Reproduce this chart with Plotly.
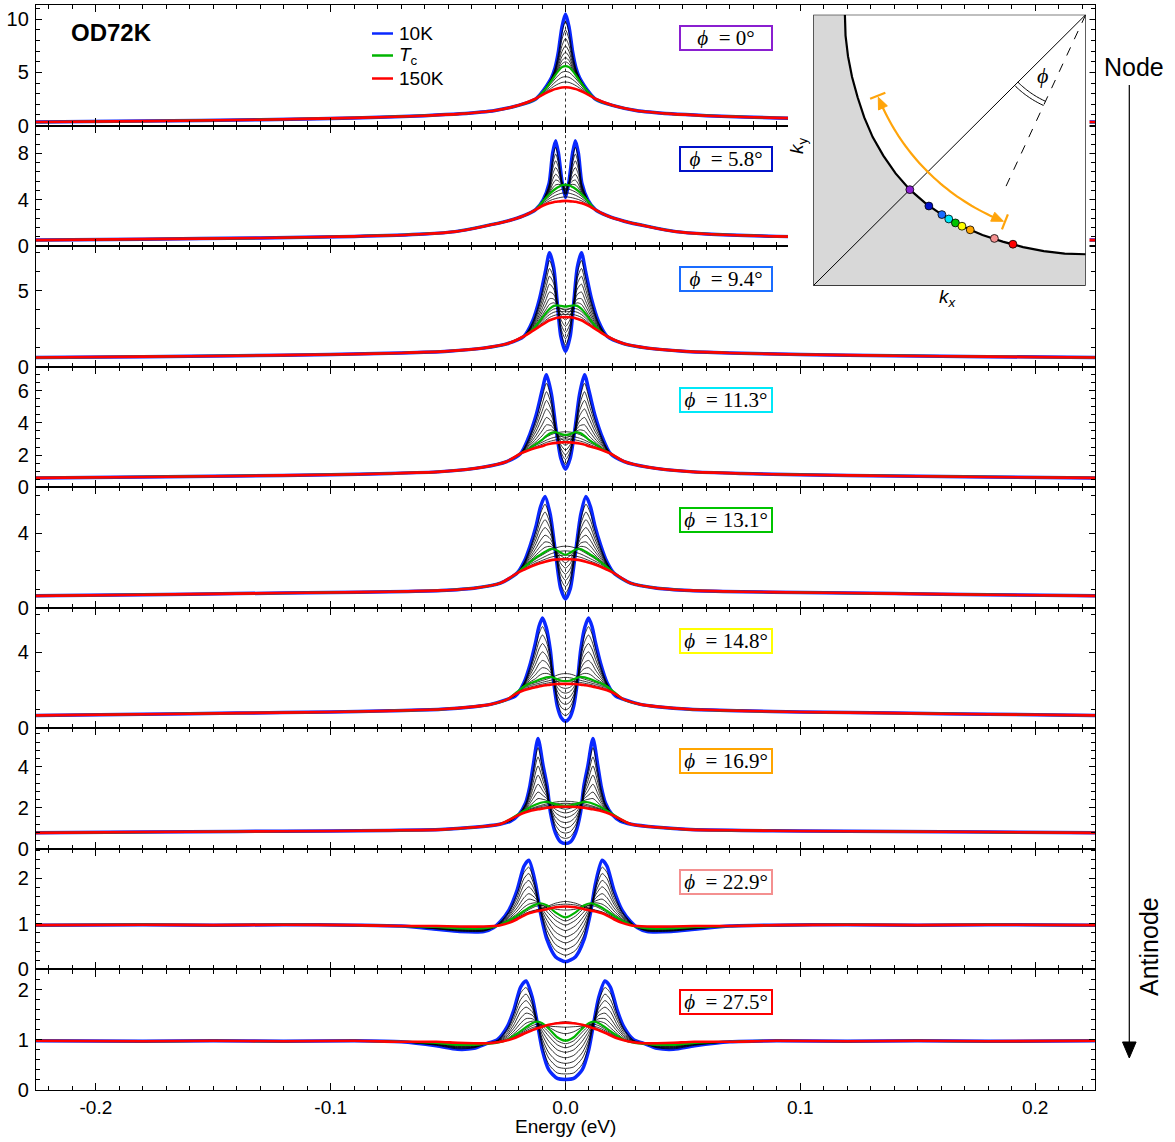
import math
import plotly.graph_objects as go

# ---------------- data ----------------
PHI = [0, 5.8, 9.4, 11.3, 13.1, 14.8, 16.9, 22.9, 27.5]
PHI_COLORS = ["#8a1fd0", "#0010c8", "#1a6cff", "#00e8f8", "#00c400",
              "#ffff00", "#ffa500", "#f49090", "#ff0000"]
Y_TOP = [11.35, 10.4, 7.93, 7.5, 6.46, 6.34, 5.87, 2.64, 2.4]
Y_TICKS = [[0, 5, 10], [0, 4, 8], [0, 5], [0, 2, 4, 6], [0, 4], [0, 4], [0, 2, 4], [0, 1, 2], [0, 1, 2]]
Y_MINOR = [1, 0.8, 1.25, 0.5, 1, 1, 0.4, 0.2, 0.2]
X_TICKS = [-0.2, -0.1, 0.0, 0.1, 0.2]
X_TICKTEXT = ["-0.2", "-0.1", "0.0", "0.1", "0.2"]

# Symmetrized spectra: energies >= 0 (inner part, then outer tail shared by all curves)
# ---- phi = 0
P1_E_IN = [0, 0.0015, 0.003, 0.0045, 0.006, 0.008, 0.0105, 0.013]
P1_BLUE = [10.5, 9.3, 7.0, 5.4, 4.5, 3.75, 3.0, 2.45]
P1_GREEN = [5.6, 5.5, 5.15, 4.7, 4.2, 3.6, 2.95, 2.45]
P1_RED = [3.6, 3.58, 3.52, 3.43, 3.3, 3.1, 2.8, 2.5]
P1_BLACK = [
    [9.8, 8.76, 6.74, 5.3, 4.46, 3.73, 2.99, 2.45],
    [9.0, 8.14, 6.43, 5.19, 4.41, 3.7, 2.98, 2.45],
    [8.2, 7.52, 6.13, 5.07, 4.36, 3.68, 2.98, 2.45],
    [7.5, 6.97, 5.87, 4.97, 4.32, 3.66, 2.97, 2.45],
    [6.9, 6.51, 5.64, 4.89, 4.28, 3.64, 2.96, 2.45],
    [6.4, 6.12, 5.45, 4.81, 4.25, 3.63, 2.96, 2.45],
    [6.0, 5.81, 5.3, 4.76, 4.22, 3.61, 2.95, 2.45],
    [5.1, 5.02, 4.74, 4.38, 3.98, 3.48, 2.91, 2.45],
    [4.6, 4.54, 4.34, 4.07, 3.75, 3.35, 2.88, 2.45],
    [4.1, 4.06, 3.93, 3.75, 3.53, 3.23, 2.84, 2.45],
]
P1_E_OUT = [0.02, 0.03, 0.045, 0.06, 0.09, 0.13, 0.18, 0.2255]
P1_TAIL = [1.9, 1.42, 1.1, 0.93, 0.72, 0.55, 0.42, 0.33]

# ---- phi = 5.8
P2_E_IN = [0, 0.0015, 0.003, 0.0042, 0.0055, 0.007, 0.0095, 0.0127]
P2_BLUE = [4.2, 5.6, 8.0, 9.1, 8.0, 5.4, 4.0, 3.15]
P2_GREEN = [5.3, 5.25, 5.1, 4.95, 4.75, 4.45, 3.9, 3.15]
P2_RED = [3.9, 3.88, 3.85, 3.82, 3.77, 3.7, 3.5, 3.15]
P2_BLACK = [
    [4.35, 5.55, 7.59, 8.52, 7.55, 5.27, 3.99, 3.15],
    [4.51, 5.5, 7.19, 7.94, 7.09, 5.13, 3.97, 3.15],
    [4.66, 5.45, 6.78, 7.36, 6.64, 5.0, 3.96, 3.15],
    [4.82, 5.4, 6.38, 6.78, 6.18, 4.87, 3.94, 3.15],
    [4.97, 5.36, 5.97, 6.2, 5.73, 4.74, 3.93, 3.15],
    [5.1, 5.31, 5.62, 5.7, 5.33, 4.62, 3.92, 3.15],
    [5.21, 5.28, 5.33, 5.28, 5.01, 4.52, 3.91, 3.15],
    [4.95, 4.91, 4.79, 4.67, 4.51, 4.26, 3.8, 3.15],
    [4.6, 4.57, 4.48, 4.39, 4.26, 4.08, 3.7, 3.15],
    [4.25, 4.22, 4.16, 4.1, 4.02, 3.89, 3.6, 3.15],
]
P2_E_OUT = [0.018, 0.025, 0.035, 0.047, 0.06, 0.09, 0.13, 0.18, 0.2255]
P2_TAIL = [2.6, 2.15, 1.7, 1.25, 1.05, 0.84, 0.7, 0.6, 0.52]

# ---- phi = 9.4
P3_E_IN = [0, 0.002, 0.0035, 0.005, 0.0068, 0.0085, 0.011, 0.014, 0.0177]
P3_BLUE = [1.0, 2.0, 4.2, 6.5, 7.5, 6.3, 4.5, 3.0, 2.0]
P3_GREEN = [3.95, 4.0, 4.03, 4.0, 3.8, 3.5, 3.0, 2.45, 2.0]
P3_RED = [3.26, 3.25, 3.22, 3.15, 3.05, 2.9, 2.65, 2.35, 2.0]
P3_BLACK = [
    [1.41, 2.28, 4.18, 6.15, 6.98, 5.91, 4.29, 2.92, 2.0],
    [1.83, 2.56, 4.15, 5.8, 6.46, 5.52, 4.08, 2.85, 2.0],
    [2.24, 2.84, 4.13, 5.45, 5.95, 5.12, 3.87, 2.77, 2.0],
    [2.65, 3.12, 4.1, 5.1, 5.43, 4.73, 3.66, 2.69, 2.0],
    [3.07, 3.4, 4.08, 4.75, 4.91, 4.34, 3.45, 2.62, 2.0],
    [3.42, 3.64, 4.06, 4.45, 4.47, 4.0, 3.27, 2.55, 2.0],
    [3.71, 3.84, 4.04, 4.2, 4.1, 3.72, 3.12, 2.49, 2.0],
    [3.78, 3.81, 3.83, 3.79, 3.61, 3.35, 2.91, 2.43, 2.0],
    [3.61, 3.63, 3.63, 3.58, 3.43, 3.2, 2.83, 2.4, 2.0],
    [3.43, 3.44, 3.42, 3.36, 3.24, 3.05, 2.74, 2.38, 2.0],
]
P3_E_OUT = [0.025, 0.035, 0.05, 0.07, 0.1, 0.14, 0.18, 0.2255]
P3_TAIL = [1.5, 1.22, 1.02, 0.9, 0.8, 0.72, 0.66, 0.6]

# ---- phi = 11.3
P4_E_IN = [0, 0.002, 0.004, 0.006, 0.0081, 0.010, 0.0125, 0.016, 0.0191]
P4_BLUE = [1.12, 1.8, 3.6, 5.8, 7.0, 6.0, 4.5, 3.0, 2.1]
P4_GREEN = [3.25, 3.3, 3.42, 3.38, 3.2, 2.95, 2.7, 2.35, 2.1]
P4_RED = [2.8, 2.79, 2.76, 2.72, 2.65, 2.55, 2.45, 2.28, 2.1]
P4_BLACK = [
    [1.42, 2.01, 3.57, 5.46, 6.47, 5.57, 4.25, 2.91, 2.1],
    [1.72, 2.22, 3.55, 5.12, 5.94, 5.15, 4.0, 2.82, 2.1],
    [2.01, 2.43, 3.52, 4.78, 5.4, 4.72, 3.74, 2.73, 2.1],
    [2.31, 2.64, 3.5, 4.45, 4.87, 4.29, 3.49, 2.64, 2.1],
    [2.61, 2.85, 3.47, 4.11, 4.34, 3.87, 3.24, 2.55, 2.1],
    [2.87, 3.03, 3.45, 3.82, 3.88, 3.5, 3.02, 2.47, 2.1],
    [3.08, 3.18, 3.44, 3.57, 3.5, 3.19, 2.84, 2.4, 2.1],
    [3.45, 3.43, 3.38, 3.28, 3.12, 2.95, 2.72, 2.38, 2.1],
    [3.2, 3.18, 3.13, 3.05, 2.93, 2.79, 2.62, 2.33, 2.1],
    [3.0, 2.99, 2.95, 2.88, 2.79, 2.67, 2.53, 2.3, 2.1],
]
P4_E_OUT = [0.025, 0.035, 0.053, 0.075, 0.1, 0.14, 0.18, 0.2255]
P4_TAIL = [1.6, 1.25, 0.97, 0.85, 0.78, 0.7, 0.64, 0.58]

# ---- phi = 13.1
P5_E_IN = [0, 0.002, 0.0043, 0.0065, 0.0087, 0.0106, 0.0125, 0.015, 0.0175, 0.0206]
P5_BLUE = [0.47, 1.0, 3.0, 5.0, 5.96, 5.43, 4.4, 3.35, 2.5, 1.86]
P5_GREEN = [2.84, 2.95, 3.12, 3.14, 3.0, 2.85, 2.7, 2.45, 2.2, 1.86]
P5_RED = [2.6, 2.6, 2.58, 2.54, 2.47, 2.4, 2.32, 2.2, 2.05, 1.86]
P5_BLACK = [
    [0.8, 1.27, 3.02, 4.74, 5.55, 5.07, 4.16, 3.22, 2.46, 1.86],
    [1.13, 1.55, 3.03, 4.48, 5.13, 4.71, 3.92, 3.1, 2.42, 1.86],
    [1.47, 1.82, 3.05, 4.22, 4.72, 4.35, 3.69, 2.97, 2.37, 1.86],
    [1.8, 2.09, 3.07, 3.96, 4.3, 3.99, 3.45, 2.85, 2.33, 1.86],
    [2.13, 2.37, 3.08, 3.7, 3.89, 3.62, 3.21, 2.72, 2.29, 1.86],
    [2.41, 2.6, 3.1, 3.47, 3.53, 3.31, 3.01, 2.61, 2.25, 1.86],
    [2.65, 2.79, 3.11, 3.29, 3.24, 3.06, 2.84, 2.52, 2.22, 1.86],
    [3.3, 3.28, 3.2, 3.08, 2.92, 2.78, 2.63, 2.42, 2.18, 1.86],
    [3.05, 3.03, 2.97, 2.88, 2.75, 2.63, 2.51, 2.34, 2.13, 1.86],
    [2.82, 2.81, 2.77, 2.7, 2.6, 2.5, 2.41, 2.26, 2.09, 1.86],
]
P5_E_OUT = [0.0277, 0.039, 0.053, 0.075, 0.1, 0.14, 0.18, 0.2255]
P5_TAIL = [1.32, 1.05, 0.93, 0.86, 0.82, 0.76, 0.7, 0.64]

# ---- phi = 14.8
P6_E_IN = [0, 0.0018, 0.0035, 0.005, 0.0065, 0.0082, 0.0098, 0.0113, 0.0128, 0.0149, 0.0177, 0.0213]
P6_BLUE = [0.38, 0.56, 1.17, 2.4, 4.14, 5.3, 5.8, 5.35, 4.49, 3.44, 2.4, 1.7]
P6_GREEN = [2.48, 2.5, 2.58, 2.66, 2.71, 2.68, 2.62, 2.55, 2.47, 2.38, 2.2, 1.85]
P6_RED = [2.34, 2.34, 2.33, 2.32, 2.3, 2.27, 2.24, 2.2, 2.16, 2.1, 2.0, 1.8]
P6_BLACK = [
    [0.67, 0.83, 1.37, 2.44, 3.94, 4.93, 5.35, 4.96, 4.2, 3.29, 2.37, 1.72],
    [0.97, 1.1, 1.56, 2.47, 3.74, 4.57, 4.91, 4.57, 3.92, 3.14, 2.34, 1.74],
    [1.26, 1.37, 1.76, 2.51, 3.54, 4.2, 4.46, 4.17, 3.63, 2.99, 2.32, 1.76],
    [1.56, 1.65, 1.96, 2.55, 3.34, 3.83, 4.02, 3.78, 3.35, 2.85, 2.29, 1.78],
    [1.85, 1.92, 2.16, 2.58, 3.14, 3.47, 3.57, 3.39, 3.06, 2.7, 2.26, 1.81],
    [2.1, 2.15, 2.33, 2.61, 2.97, 3.15, 3.19, 3.05, 2.82, 2.57, 2.24, 1.82],
    [2.31, 2.34, 2.47, 2.64, 2.83, 2.89, 2.87, 2.77, 2.61, 2.46, 2.22, 1.84],
    [2.88, 2.86, 2.8, 2.72, 2.65, 2.58, 2.52, 2.46, 2.4, 2.32, 2.17, 1.83],
    [2.68, 2.66, 2.62, 2.57, 2.52, 2.47, 2.42, 2.37, 2.32, 2.25, 2.12, 1.82],
    [2.5, 2.49, 2.47, 2.44, 2.41, 2.37, 2.33, 2.29, 2.24, 2.18, 2.06, 1.81],
]
P6_E_OUT = [0.0248, 0.0319, 0.039, 0.053, 0.075, 0.1, 0.14, 0.18, 0.2255]
P6_TAIL = [1.52, 1.26, 1.14, 1.0, 0.92, 0.86, 0.8, 0.74, 0.68]

# ---- phi = 16.9
P7_E_IN = [0, 0.0021, 0.0043, 0.0064, 0.0078, 0.0095, 0.0117, 0.0138, 0.0152, 0.017, 0.0199, 0.0234]
P7_BLUE = [0.26, 0.34, 0.78, 1.76, 3.05, 4.03, 5.37, 4.03, 3.05, 2.24, 1.67, 1.35]
P7_GREEN = [2.08, 2.12, 2.18, 2.25, 2.29, 2.27, 2.2, 2.1, 2.02, 1.9, 1.7, 1.45]
P7_RED = [2.05, 2.05, 2.04, 2.02, 2.0, 1.97, 1.93, 1.88, 1.84, 1.78, 1.65, 1.45]
P7_BLACK = [
    [0.51, 0.59, 0.98, 1.83, 2.94, 3.78, 4.93, 3.76, 2.91, 2.19, 1.67, 1.36],
    [0.77, 0.84, 1.17, 1.9, 2.84, 3.54, 4.48, 3.49, 2.76, 2.14, 1.68, 1.38],
    [1.02, 1.09, 1.37, 1.97, 2.73, 3.29, 4.04, 3.22, 2.62, 2.1, 1.68, 1.39],
    [1.28, 1.34, 1.56, 2.03, 2.62, 3.04, 3.59, 2.95, 2.47, 2.05, 1.69, 1.41],
    [1.53, 1.59, 1.76, 2.1, 2.52, 2.8, 3.15, 2.68, 2.33, 2.0, 1.69, 1.42],
    [1.75, 1.8, 1.93, 2.16, 2.43, 2.59, 2.77, 2.45, 2.21, 1.96, 1.69, 1.43],
    [1.93, 1.98, 2.07, 2.21, 2.35, 2.41, 2.45, 2.25, 2.1, 1.93, 1.7, 1.44],
    [2.32, 2.31, 2.28, 2.24, 2.2, 2.15, 2.08, 2.0, 1.95, 1.86, 1.69, 1.45],
    [2.22, 2.21, 2.19, 2.16, 2.13, 2.09, 2.03, 1.96, 1.91, 1.83, 1.67, 1.45],
    [2.13, 2.12, 2.11, 2.09, 2.06, 2.03, 1.98, 1.92, 1.87, 1.8, 1.66, 1.45],
]
P7_E_OUT = [0.028, 0.039, 0.053, 0.075, 0.1, 0.14, 0.18, 0.2255]
P7_TAIL = [1.2, 1.05, 0.94, 0.9, 0.87, 0.85, 0.82, 0.78]

# ---- phi = 22.9
P8_E_IN = [0, 0.0043, 0.0078, 0.0106, 0.0128, 0.0156, 0.0177, 0.0206, 0.0241, 0.0277, 0.0305, 0.0348, 0.045, 0.055]
P8_BLUE = [0.17, 0.28, 0.64, 1.23, 1.89, 2.39, 2.26, 1.74, 1.3, 1.05, 0.92, 0.83, 0.83, 0.88]
P8_GREEN = [1.14, 1.25, 1.4, 1.45, 1.42, 1.35, 1.28, 1.18, 1.07, 0.98, 0.93, 0.9, 0.9, 0.93]
P8_RED = [1.38, 1.36, 1.32, 1.29, 1.27, 1.23, 1.18, 1.1, 1.02, 0.97, 0.95, 0.94, 0.94, 0.95]
P8_BLACK = [
    [0.31, 0.42, 0.75, 1.26, 1.82, 2.24, 2.12, 1.66, 1.27, 1.04, 0.92, 0.84, 0.84, 0.89],
    [0.44, 0.55, 0.85, 1.29, 1.76, 2.1, 1.99, 1.58, 1.24, 1.03, 0.92, 0.85, 0.85, 0.89],
    [0.58, 0.69, 0.96, 1.32, 1.69, 1.95, 1.85, 1.5, 1.2, 1.02, 0.92, 0.86, 0.86, 0.9],
    [0.71, 0.82, 1.07, 1.35, 1.63, 1.81, 1.71, 1.43, 1.17, 1.01, 0.93, 0.87, 0.87, 0.91],
    [0.85, 0.96, 1.17, 1.38, 1.56, 1.66, 1.57, 1.35, 1.14, 1.0, 0.93, 0.88, 0.88, 0.92],
    [0.97, 1.08, 1.26, 1.41, 1.5, 1.54, 1.46, 1.28, 1.11, 0.99, 0.93, 0.89, 0.89, 0.92],
    [1.06, 1.17, 1.34, 1.43, 1.46, 1.43, 1.36, 1.22, 1.09, 0.99, 0.93, 0.89, 0.89, 0.93],
    [1.49, 1.45, 1.38, 1.33, 1.3, 1.26, 1.21, 1.13, 1.04, 0.98, 0.94, 0.92, 0.92, 0.94],
    [1.43, 1.41, 1.36, 1.32, 1.29, 1.25, 1.2, 1.12, 1.03, 0.97, 0.94, 0.92, 0.92, 0.94],
    [1.3, 1.32, 1.38, 1.4, 1.38, 1.31, 1.24, 1.15, 1.05, 0.97, 0.93, 0.91, 0.91, 0.94],
]
P8_E_OUT = [0.07, 0.09, 0.12, 0.15, 0.18, 0.2255]
P8_TAIL = [0.95, 0.97, 0.98, 0.97, 0.98, 0.97]

# ---- phi = 27.5
P9_E_IN = [0, 0.0035, 0.0071, 0.0099, 0.012, 0.0142, 0.0168, 0.0191, 0.022, 0.0248, 0.029, 0.0333, 0.039, 0.046, 0.055]
P9_BLUE = [0.21, 0.23, 0.4, 0.8, 1.33, 1.85, 2.17, 2.05, 1.59, 1.26, 1.0, 0.93, 0.83, 0.81, 0.88]
P9_GREEN = [0.98, 1.05, 1.22, 1.33, 1.36, 1.33, 1.25, 1.17, 1.08, 1.0, 0.94, 0.92, 0.9, 0.9, 0.94]
P9_RED = [1.34, 1.33, 1.3, 1.26, 1.23, 1.19, 1.14, 1.09, 1.03, 0.99, 0.95, 0.93, 0.93, 0.94, 0.96]
P9_BLACK = [
    [0.32, 0.34, 0.51, 0.87, 1.33, 1.78, 2.04, 1.93, 1.52, 1.22, 0.99, 0.93, 0.84, 0.82, 0.89],
    [0.43, 0.46, 0.63, 0.95, 1.34, 1.7, 1.91, 1.8, 1.45, 1.19, 0.98, 0.93, 0.85, 0.84, 0.9],
    [0.53, 0.57, 0.74, 1.02, 1.34, 1.63, 1.78, 1.68, 1.38, 1.15, 0.97, 0.93, 0.86, 0.85, 0.91],
    [0.64, 0.69, 0.86, 1.1, 1.35, 1.56, 1.65, 1.56, 1.3, 1.11, 0.97, 0.92, 0.87, 0.86, 0.91],
    [0.75, 0.8, 0.97, 1.17, 1.35, 1.49, 1.53, 1.43, 1.23, 1.08, 0.96, 0.92, 0.88, 0.87, 0.92],
    [0.84, 0.9, 1.07, 1.23, 1.35, 1.42, 1.42, 1.33, 1.17, 1.05, 0.95, 0.92, 0.89, 0.88, 0.93],
    [0.92, 0.98, 1.15, 1.28, 1.36, 1.37, 1.33, 1.24, 1.12, 1.02, 0.95, 0.92, 0.89, 0.89, 0.93],
    [1.36, 1.34, 1.3, 1.27, 1.25, 1.21, 1.15, 1.1, 1.04, 0.99, 0.95, 0.93, 0.92, 0.93, 0.95],
    [1.25, 1.26, 1.27, 1.28, 1.27, 1.24, 1.18, 1.12, 1.05, 0.99, 0.95, 0.93, 0.91, 0.92, 0.95],
    [1.12, 1.16, 1.25, 1.3, 1.31, 1.28, 1.21, 1.14, 1.06, 1.0, 0.95, 0.92, 0.91, 0.91, 0.94],
]
P9_E_OUT = [0.07, 0.09, 0.12, 0.15, 0.18, 0.2255]
P9_TAIL = [0.96, 0.98, 0.97, 0.98, 0.97, 0.98]

# Inset (schematic Fermi surface around (pi,pi)): radius vs angle, and k_F radius of each cut
FS_ANGLE = [180, 185, 190, 195, 200, 205, 210, 215, 220, 225, 230, 235, 240, 245, 250, 255, 260, 265, 270]
FS_RADIUS = [0.884, 0.885, 0.886, 0.888, 0.891, 0.897, 0.903, 0.907, 0.911, 0.913,
             0.911, 0.907, 0.903, 0.897, 0.891, 0.888, 0.886, 0.885, 0.884]
KF_RADIUS = [0.913, 0.911, 0.907, 0.906, 0.905, 0.903, 0.900, 0.891, 0.888]

PANELS = [
    (P1_E_IN, P1_BLUE, P1_GREEN, P1_RED, P1_BLACK, P1_E_OUT, P1_TAIL),
    (P2_E_IN, P2_BLUE, P2_GREEN, P2_RED, P2_BLACK, P2_E_OUT, P2_TAIL),
    (P3_E_IN, P3_BLUE, P3_GREEN, P3_RED, P3_BLACK, P3_E_OUT, P3_TAIL),
    (P4_E_IN, P4_BLUE, P4_GREEN, P4_RED, P4_BLACK, P4_E_OUT, P4_TAIL),
    (P5_E_IN, P5_BLUE, P5_GREEN, P5_RED, P5_BLACK, P5_E_OUT, P5_TAIL),
    (P6_E_IN, P6_BLUE, P6_GREEN, P6_RED, P6_BLACK, P6_E_OUT, P6_TAIL),
    (P7_E_IN, P7_BLUE, P7_GREEN, P7_RED, P7_BLACK, P7_E_OUT, P7_TAIL),
    (P8_E_IN, P8_BLUE, P8_GREEN, P8_RED, P8_BLACK, P8_E_OUT, P8_TAIL),
    (P9_E_IN, P9_BLUE, P9_GREEN, P9_RED, P9_BLACK, P9_E_OUT, P9_TAIL),
]

# ---------------- layout geometry ----------------
W, H = 1175, 1142
ML, MR, MT, MB = 36, 80, 5, 52
PW, PH = W - ML - MR, H - MT - MB
NP = 9
PANEL_H = PH / NP


def fx(px):
    return (px - ML) / PW


def fy(py):
    return (H - MB - py) / PH


def ax_names(i):
    s = "" if i == 0 else str(i + 1)
    return "x" + s, "y" + s, "xaxis" + s, "yaxis" + s


def mirror_xy(e, v):
    x = [-a for a in reversed(e)] + list(e[1:])
    y = list(reversed(v)) + list(v[1:])
    return x, y


fig = go.Figure()
BLUE_C, GREEN_C, RED_C = "#0a28ff", "#00b400", "#ff0000"

for i, (e_in, blue, green, red, blacks, e_out, tail) in enumerate(PANELS):
    xn, yn, _, _ = ax_names(i)
    e_all = list(e_in) + list(e_out)

    def add(vals, color, width):
        assert len(vals) == len(e_in), (i, len(vals), len(e_in))
        x, y = mirror_xy(e_all, list(vals) + list(tail))
        fig.add_trace(go.Scatter(x=x, y=y, mode="lines", xaxis=xn, yaxis=yn,
                                 line=dict(color=color, width=width, shape="spline", smoothing=0.7),
                                 hoverinfo="skip", showlegend=False))

    add(blue, BLUE_C, 3.5)
    for b in blacks:
        add(b, "black", 0.8)
    add(green, GREEN_C, 2.2)
    add(red, RED_C, 2.6)

layout = dict(
    width=W, height=H,
    margin=dict(l=ML, r=MR, t=MT, b=MB, pad=0),
    paper_bgcolor="white", plot_bgcolor="white",
    font=dict(family="Liberation Sans, Arial, sans-serif", size=19, color="black"),
    showlegend=False,
)

for i in range(NP):
    xn, yn, xk, yk = ax_names(i)
    xa = dict(domain=[0, 1], range=[-0.2255, 0.2255], anchor=yn, showline=True,
              linecolor="black", linewidth=1.3, mirror="allticks", ticks="inside",
              ticklen=7, tickwidth=1, tickcolor="black", tickmode="array",
              tickvals=X_TICKS, ticktext=X_TICKTEXT, showticklabels=(i == NP - 1),
              ticklabelstandoff=0, tickfont=dict(size=19),
              minor=dict(dtick=0.01, tick0=0, ticks="inside", ticklen=4, tickwidth=1,
                         tickcolor="black", showgrid=False),
              showgrid=False, zeroline=False, fixedrange=True)
    if i > 0:
        xa["matches"] = "x"
    ya = dict(domain=[(NP - 1 - i) / NP, (NP - i) / NP], range=[0, Y_TOP[i]], anchor=xn,
              showline=True, linecolor="black", linewidth=1.3, mirror="allticks",
              ticks="inside", ticklen=6, tickwidth=1, tickcolor="black", tickmode="array",
              tickvals=Y_TICKS[i], ticklabelstandoff=2, tickfont=dict(size=20),
              minor=dict(dtick=Y_MINOR[i], tick0=0, ticks="inside", ticklen=3.5, tickwidth=1,
                         tickcolor="black", showgrid=False),
              showgrid=False, zeroline=False, fixedrange=True)
    layout[xk] = xa
    layout[yk] = ya

# inset axes
IX0, IY0, IX1, IY1 = 813.3, 14.7, 1085.7, 285.7
layout["xaxis10"] = dict(domain=[fx(IX0), fx(IX1)], range=[0, 1], anchor="y10", visible=False, fixedrange=True)
layout["yaxis10"] = dict(domain=[fy(IY1), fy(IY0)], range=[0, 1], anchor="x10", visible=False, fixedrange=True)
fig.add_trace(go.Scatter(x=[0.5], y=[0.5], xaxis="x10", yaxis="y10", mode="markers",
                         marker=dict(opacity=0), hoverinfo="skip", showlegend=False))

shapes = []
annotations = []

# dotted zero lines
for i in range(NP):
    xn, yn, _, _ = ax_names(i)
    shapes.append(dict(type="line", xref=xn, yref=yn + " domain", x0=0, x1=0, y0=0, y1=1,
                       line=dict(color="#333333", width=1, dash="dot"), layer="below"))

# legend
LEG = [("10K", BLUE_C, 33.5), ("<i>T</i><sub>c</sub>", GREEN_C, 55.5), ("150K", RED_C, 78.5)]
for txt, col, py in LEG:
    shapes.append(dict(type="line", xref="paper", yref="paper", x0=fx(372), x1=fx(393),
                       y0=fy(py), y1=fy(py), line=dict(color=col, width=2.5), layer="above"))
    annotations.append(dict(text=txt, xref="paper", yref="paper", x=fx(397), y=fy(py),
                            xanchor="left", yanchor="middle", showarrow=False,
                            font=dict(size=19, family="Liberation Sans, Arial, sans-serif")))

annotations.append(dict(text="<b>OD72K</b>", xref="paper", yref="paper", x=fx(69), y=fy(33),
                        xanchor="left", yanchor="middle", showarrow=False,
                        font=dict(size=24, family="Liberation Sans, Arial, sans-serif")))

# phi labels
for i in range(NP):
    ptop = MT + i * PANEL_H
    annotations.append(dict(text="<i>ϕ</i>  = %s°" % (("%g" % PHI[i]) if PHI[i] != int(PHI[i]) else "%d" % PHI[i]),
                            xref="paper", yref="paper", x=fx(726.3), y=fy(ptop + 33),
                            xanchor="center", yanchor="middle", showarrow=False,
                            width=88, height=20, borderpad=1, borderwidth=2,
                            bordercolor=PHI_COLORS[i], bgcolor="rgba(255,255,255,0)",
                            font=dict(size=21, family="Liberation Serif, Times New Roman, serif")))

# ---------- inset ----------
shapes.append(dict(type="rect", xref="paper", yref="paper", x0=fx(788), x1=fx(1089.5),
                   y0=fy(292), y1=fy(11), fillcolor="white", line=dict(width=0), layer="above"))

fs_pts = [(1 + r * math.cos(math.radians(a)), 1 + r * math.sin(math.radians(a)))
          for a, r in zip(FS_ANGLE, FS_RADIUS)]
gray_path = "M 0,0 L 0,1 " + " ".join("L %.4f,%.4f" % p for p in fs_pts) + " L 1,0 Z"
shapes.append(dict(type="path", xref="x10", yref="y10", path=gray_path,
                   fillcolor="#d8d8d8", line=dict(width=0), layer="above"))
shapes.append(dict(type="line", xref="x10", yref="y10", x0=0, y0=0, x1=1, y1=1,
                   line=dict(color="black", width=1), layer="above"))
fs_path = "M %.4f,%.4f " % fs_pts[0] + " ".join("L %.4f,%.4f" % p for p in fs_pts[1:])
shapes.append(dict(type="path", xref="x10", yref="y10", path=fs_path,
                   line=dict(color="black", width=2.2), layer="above"))
shapes.append(dict(type="rect", xref="x10", yref="y10", x0=0, y0=0, x1=1, y1=1,
                   line=dict(color="black", width=1.2), layer="above"))

# dashed line at angle phi from the corner
DASH_ANG, DASH_LEN = 245.2, 0.706
shapes.append(dict(type="line", xref="x10", yref="y10", x0=1, y0=1,
                   x1=1 + DASH_LEN * math.cos(math.radians(DASH_ANG)),
                   y1=1 + DASH_LEN * math.sin(math.radians(DASH_ANG)),
                   line=dict(color="black", width=1, dash="dash"), layer="above"))
for rr in (0.352, 0.369):
    pts = [(1 + rr * math.cos(math.radians(225 + k * (DASH_ANG - 225) / 20)),
            1 + rr * math.sin(math.radians(225 + k * (DASH_ANG - 225) / 20))) for k in range(21)]
    shapes.append(dict(type="path", xref="x10", yref="y10",
                       path="M %.4f,%.4f " % pts[0] + " ".join("L %.4f,%.4f" % p for p in pts[1:]),
                       line=dict(color="black", width=1), layer="above"))
annotations.append(dict(text="<i>ϕ</i>", xref="x10", yref="y10", x=0.842, y=0.775,
                        showarrow=False, xanchor="center", yanchor="middle",
                        font=dict(size=22, family="Liberation Serif, Times New Roman, serif")))

# orange double arrow along an arc
ORANGE = "#ffa40a"
AR, A0, A1 = 0.82, 201.8, 248.4
HEAD = 3.0  # degrees
arc = [(1 + AR * math.cos(math.radians(A0 + HEAD * 0.5 + k * (A1 - A0 - HEAD) / 40)),
        1 + AR * math.sin(math.radians(A0 + HEAD * 0.5 + k * (A1 - A0 - HEAD) / 40))) for k in range(41)]
shapes.append(dict(type="path", xref="x10", yref="y10",
                   path="M %.4f,%.4f " % arc[0] + " ".join("L %.4f,%.4f" % p for p in arc[1:]),
                   line=dict(color=ORANGE, width=2.2), layer="above"))
for tip, base in ((A0, A0 + HEAD), (A1, A1 - HEAD)):
    t = (1 + AR * math.cos(math.radians(tip)), 1 + AR * math.sin(math.radians(tip)))
    b1 = (1 + (AR - 0.018) * math.cos(math.radians(base)), 1 + (AR - 0.018) * math.sin(math.radians(base)))
    b2 = (1 + (AR + 0.018) * math.cos(math.radians(base)), 1 + (AR + 0.018) * math.sin(math.radians(base)))
    shapes.append(dict(type="path", xref="x10", yref="y10",
                       path="M %.4f,%.4f L %.4f,%.4f L %.4f,%.4f Z" % (t + b1 + b2),
                       fillcolor=ORANGE, line=dict(color=ORANGE, width=1), layer="above"))
for ang in (A0 - 0.4, A1 + 0.4):
    c, s = math.cos(math.radians(ang)), math.sin(math.radians(ang))
    shapes.append(dict(type="line", xref="x10", yref="y10",
                       x0=1 + (AR - 0.03) * c, y0=1 + (AR - 0.03) * s,
                       x1=1 + (AR + 0.03) * c, y1=1 + (AR + 0.03) * s,
                       line=dict(color=ORANGE, width=2.2), layer="above"))

# k_F points of the cuts
DOT_R = 0.0145
for phi, r, col in zip(PHI, KF_RADIUS, PHI_COLORS):
    a = math.radians(225 + phi)
    cx, cy = 1 + r * math.cos(a), 1 + r * math.sin(a)
    shapes.append(dict(type="circle", xref="x10", yref="y10", x0=cx - DOT_R, x1=cx + DOT_R,
                       y0=cy - DOT_R, y1=cy + DOT_R, fillcolor=col,
                       line=dict(color="black", width=0.8), layer="above"))

annotations.append(dict(text="<i>k</i><sub>y</sub>", xref="paper", yref="paper", x=fx(798), y=fy(146),
                        textangle=-90, showarrow=False, xanchor="center", yanchor="middle",
                        font=dict(size=19)))
annotations.append(dict(text="<i>k<sub>x</sub></i>", xref="paper", yref="paper", x=fx(948), y=fy(298),
                        showarrow=False, xanchor="center", yanchor="middle", font=dict(size=19)))

# Node -> Antinode arrow
shapes.append(dict(type="line", xref="paper", yref="paper", x0=fx(1129.3), x1=fx(1129.3),
                   y0=fy(85), y1=fy(1045), line=dict(color="black", width=1.2), layer="above"))
shapes.append(dict(type="path", xref="paper", yref="paper",
                   path="M %.5f,%.5f L %.5f,%.5f L %.5f,%.5f Z" % (fx(1122.5), fy(1042), fx(1136.1), fy(1042),
                                                                fx(1129.3), fy(1058)),
                   fillcolor="black", line=dict(color="black", width=1), layer="above"))
annotations.append(dict(text="Node", xref="paper", yref="paper", x=fx(1133.5), y=fy(66.5),
                        showarrow=False, xanchor="center", yanchor="middle", font=dict(size=25)))
annotations.append(dict(text="Antinode", xref="paper", yref="paper", x=fx(1149), y=fy(947),
                        textangle=-90, showarrow=False, xanchor="center", yanchor="middle",
                        font=dict(size=25)))

annotations.append(dict(text="Energy (eV)", xref="paper", yref="paper", x=fx(565), y=fy(1126),
                        showarrow=False, xanchor="center", yanchor="middle", font=dict(size=19)))

layout["shapes"] = shapes
layout["annotations"] = annotations
fig.update_layout(**layout)
fig.write_html("out.html")
